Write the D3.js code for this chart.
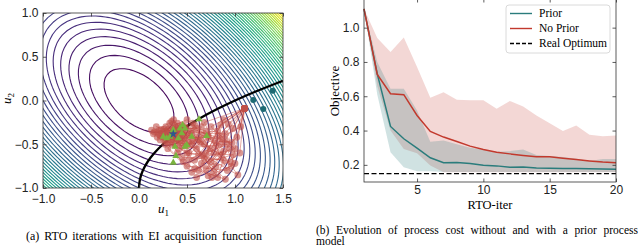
<!DOCTYPE html>
<html>
<head>
<meta charset="utf-8">
<script src="https://cdn.jsdelivr.net/npm/d3@7"></script>
<style>
  body { margin: 0; background: #fff; }
  svg { display: block; font-family: "Liberation Serif", "DejaVu Serif", serif; }
  .tick text { font-size: 12px; fill: #222; }
</style>
</head>
<body>
<div id="chart"></div>
<script>
// ---- panel (a): objective u1^2 + u2^2 + u1*u2, levels, points ----
const objCoef = [1, 1, 1];              // u1^2, u2^2, u1*u2
const contourLevels = d3.range(1, 48).map(k => k / 10);   // 0.1 .. 4.7
const constraintPts = [[0, -1], [0.01, -0.9], [0.04, -0.8], [0.09, -0.7], [0.16, -0.6], [0.25, -0.5],
  [0.36, -0.4], [0.49, -0.3], [0.64, -0.2], [0.81, -0.1], [1.0, 0], [1.21, 0.1], [1.44, 0.2], [1.5, 0.225]];

const rtoRuns = [
  [[1.1,-0.09],[0.62,-0.45],[0.85,-0.62],[0.42,-0.33],[0.3,-0.4],[0.55,-0.38],[0.38,-0.5],[0.35,-0.36],[0.47,-0.43],[0.4,-0.38]],
  [[1.1,-0.09],[0.9,-0.45],[0.7,-0.78],[0.95,-0.7],[0.5,-0.6],[0.28,-0.3],[0.6,-0.32],[0.33,-0.45],[0.42,-0.47],[0.37,-0.4]],
  [[1.1,-0.09],[0.75,-0.3],[1.0,-0.55],[0.58,-0.68],[0.2,-0.35],[0.45,-0.28],[0.68,-0.5],[0.3,-0.48],[0.36,-0.34],[0.44,-0.37]],
  [[1.1,-0.09],[0.98,-0.32],[0.82,-0.88],[0.6,-0.55],[0.15,-0.38],[0.5,-0.22],[0.72,-0.42],[0.25,-0.42],[0.38,-0.3],[0.33,-0.38]],
  [[1.1,-0.09],[0.8,-0.52],[1.03,-0.85],[0.66,-0.62],[0.36,-0.22],[0.55,-0.5],[0.9,-0.38],[0.27,-0.36],[0.46,-0.35],[0.4,-0.42]],
  [[1.1,-0.09],[0.68,-0.25],[0.92,-0.8],[0.5,-0.75],[0.22,-0.45],[0.6,-0.42],[0.78,-0.6],[0.35,-0.28],[0.43,-0.4],[0.36,-0.44]],
  [[1.1,-0.09],[1.02,-0.42],[0.75,-0.7],[0.55,-0.82],[0.3,-0.55],[0.48,-0.3],[0.85,-0.5],[0.18,-0.3],[0.5,-0.4],[0.38,-0.35]],
  [[1.1,-0.09],[0.88,-0.22],[0.65,-0.72],[0.98,-0.62],[0.4,-0.6],[0.26,-0.33],[0.58,-0.28],[0.45,-0.52],[0.32,-0.42],[0.41,-0.36]],
  [[1.1,-0.09],[0.95,-0.55],[0.6,-0.88],[0.8,-0.75],[0.52,-0.48],[0.13,-0.34],[0.7,-0.35],[0.4,-0.26],[0.28,-0.46],[0.39,-0.39]],
  [[1.1,-0.09],[0.72,-0.4],[0.88,-0.68],[0.45,-0.65],[0.24,-0.38],[0.65,-0.3],[0.52,-0.6],[0.34,-0.5],[0.47,-0.32],[0.35,-0.4]],
  [[1.1,-0.09],[1.05,-0.6],[0.78,-0.82],[0.56,-0.45],[0.32,-0.26],[0.62,-0.62],[0.82,-0.35],[0.22,-0.4],[0.44,-0.45],[0.37,-0.37]],
  [[1.1,-0.09],[0.85,-0.28],[0.7,-0.6],[0.92,-0.5],[0.42,-0.55],[0.19,-0.42],[0.54,-0.35],[0.3,-0.33],[0.48,-0.48],[0.38,-0.42]],
  [[1.1,-0.09],[0.96,-0.75],[0.72,-0.86],[0.88,-0.58],[0.58,-0.78],[0.46,-0.7],[0.64,-0.48],[0.29,-0.38],[0.41,-0.44],[0.36,-0.41]],
  [[1.1,-0.09],[0.83,-0.4],[1.0,-0.72],[0.76,-0.88],[0.52,-0.68],[0.74,-0.55],[0.56,-0.26],[0.2,-0.38],[0.45,-0.39],[0.39,-0.4]],
  [[1.1,-0.09],[0.93,-0.27],[0.68,-0.66],[0.9,-0.9],[0.62,-0.8],[0.86,-0.44],[0.34,-0.24],[0.16,-0.36],[0.43,-0.34],[0.37,-0.38]],
  [[1.1,-0.09],[1.06,-0.3],[0.79,-0.46],[0.97,-0.48],[0.66,-0.4],[0.5,-0.52],[0.27,-0.5],[0.23,-0.33],[0.4,-0.31],[0.36,-0.39]]
];
const greenPts = [[0.625,-0.215],[0.455,-0.28],[0.427,-0.318],[0.357,-0.337],[0.323,-0.413],[0.41,-0.432],
  [0.445,-0.375],[0.549,-0.413],[0.497,-0.509],[0.705,-0.406],[0.375,-0.528],[0.479,-0.528],[0.385,-0.634],
  [0.357,-0.71],[0.288,-0.432],[0.479,-0.318],[0.253,-0.413]];
const tealPts = [[1.19, 0.006], [1.295, -0.097], [1.393, 0.112]];
const optimumPt = [0.357, -0.383];
const u1Ticks = [-1, -0.5, 0, 0.5, 1, 1.5];
const u2Ticks = [-1, -0.5, 0, 0.5, 1];

// ---- panel (b): objective per RTO iteration ----
const iters = [1,2,3,4,5,6,7,8,9,10,11,12,13,14,15,16,17,18,19,20];
const priorMean  = [1.11,0.73,0.424,0.352,0.297,0.241,0.212,0.213,0.208,0.198,0.194,0.186,0.188,0.182,0.18,0.179,0.178,0.177,0.176,0.175];
const priorUpper = [1.11,0.8,0.644,0.644,0.517,0.335,0.342,0.32,0.3,0.29,0.276,0.28,0.29,0.258,0.252,0.246,0.236,0.222,0.234,0.234];
const priorLower = [1.11,0.61,0.274,0.186,0.163,0.163,0.159,0.158,0.158,0.158,0.158,0.158,0.158,0.158,0.158,0.158,0.158,0.158,0.158,0.158];
const noPriorMean  = [1.11,0.727,0.615,0.609,0.488,0.395,0.362,0.336,0.309,0.29,0.274,0.264,0.255,0.247,0.247,0.239,0.231,0.223,0.216,0.212];
const noPriorUpper = [1.11,0.94,0.858,0.942,0.77,0.591,0.624,0.58,0.576,0.576,0.527,0.572,0.54,0.488,0.443,0.397,0.43,0.375,0.367,0.371];
const noPriorLower = [1.11,0.66,0.4,0.293,0.268,0.196,0.157,0.157,0.157,0.157,0.157,0.157,0.157,0.157,0.157,0.157,0.157,0.157,0.157,0.157];
const realOptimum = 0.149;
const iterTicks = [5, 10, 15, 20];
const objTicks = [0.2, 0.4, 0.6, 0.8, 1.0];
const legendItems = ["Prior", "No Prior", "Real Optimum"];

const teal = "#2a7c7c", red = "#c2392d";
const fmt = d => d3.format(".1f")(d).replace("-", "\u2212");

const svg = d3.select("#chart").append("svg").attr("width", 640).attr("height", 247);

// inward ticks on all four sides
function boxAxes(g, x, y, xt, yt, tf) {
  const [x0, x1] = x.range(), [y0, y1] = y.range();
  g.append("g").attr("transform", `translate(0,${y0})`)
    .call(d3.axisBottom(x).tickValues(xt).tickSize(-3.5).tickPadding(tf.xpad).tickFormat(tf.x));
  g.append("g").attr("transform", `translate(0,${y1})`)
    .call(d3.axisTop(x).tickValues(xt).tickSize(-3.5).tickFormat(""));
  g.append("g").attr("transform", `translate(${x0},0)`)
    .call(d3.axisLeft(y).tickValues(yt).tickSize(-3.5).tickPadding(4.5).tickFormat(tf.y));
  g.append("g").attr("transform", `translate(${x1},0)`)
    .call(d3.axisRight(y).tickValues(yt).tickSize(-3.5).tickFormat(""));
  g.selectAll(".domain").remove();
  g.selectAll(".tick line").attr("stroke", "#333").attr("stroke-width", 0.8);
  g.append("rect").attr("x", x0).attr("y", y1).attr("width", x1 - x0).attr("height", y0 - y1)
    .attr("fill", "none").attr("stroke", "#333").attr("stroke-width", 0.8);
}

// justify a caption line by widening the word gaps
function justify(text, width) {
  const node = text.node();
  const gaps = node.textContent.split(" ").length - 1;
  const extra = width - node.getComputedTextLength();
  if (gaps > 0 && extra > 0) text.attr("word-spacing", extra / gaps);
  else if (extra < 0) text.attr("textLength", width).attr("lengthAdjust", "spacingAndGlyphs");
}

// ================= panel (a) =================
const xL = d3.scaleLinear().domain([-1, 1.5]).range([43, 283]);
const yL = d3.scaleLinear().domain([-1, 1]).range([188, 13]);

svg.append("clipPath").attr("id", "clipA").append("rect")
  .attr("x", 43).attr("y", 13).attr("width", 240).attr("height", 175);

const gA = svg.append("g");
const plotA = gA.append("g").attr("clip-path", "url(#clipA)");

// sample the objective on a grid and trace contour lines
const step = 0.05, g1 = -1.2, g2 = -1.2;
const nx = 59, ny = 49;
const grid = new Array(nx * ny);
for (let j = 0; j < ny; j++) {
  for (let i = 0; i < nx; i++) {
    const a = g1 + i * step, b = g2 + j * step;
    grid[j * nx + i] = objCoef[0] * a * a + objCoef[1] * b * b + objCoef[2] * a * b;
  }
}
const contours = d3.contours().size([nx, ny]).thresholds(contourLevels)(grid);
const proj = d3.geoTransform({
  point(px, py) { this.stream.point(xL(g1 + (px - 0.5) * step), yL(g2 + (py - 0.5) * step)); }
});
plotA.append("g").selectAll("path").data(contours).join("path")
  .attr("d", d3.geoPath(proj))
  .attr("fill", "none")
  .attr("stroke", d => d3.interpolateViridis(d.value / 4.7))
  .attr("stroke-width", 1.1);

// constraint boundary
plotA.append("path").datum(constraintPts)
  .attr("d", d3.line().x(d => xL(d[0])).y(d => yL(d[1])).curve(d3.curveNatural))
  .attr("fill", "none").attr("stroke", "#000").attr("stroke-width", 2.3);

// RTO runs
const runLine = d3.line().x(d => xL(d[0])).y(d => yL(d[1]));
plotA.append("g").selectAll("path").data(rtoRuns).join("path")
  .attr("d", runLine).attr("fill", "none")
  .attr("stroke", red).attr("stroke-opacity", 0.55).attr("stroke-width", 0.8);
plotA.append("g").selectAll("circle").data(rtoRuns.flat()).join("circle")
  .attr("cx", d => xL(d[0])).attr("cy", d => yL(d[1])).attr("r", 3.4)
  .attr("fill", "#c0504a").attr("fill-opacity", 0.6);

plotA.append("g").selectAll("circle").data(tealPts).join("circle")
  .attr("cx", d => xL(d[0])).attr("cy", d => yL(d[1])).attr("r", 3)
  .attr("fill", "#1e6a73");

plotA.append("g").selectAll("path").data(greenPts).join("path")
  .attr("transform", d => `translate(${xL(d[0])},${yL(d[1])})`)
  .attr("d", d3.symbol(d3.symbolTriangle, 22))
  .attr("fill", "#7ab33e");

plotA.append("path")
  .attr("transform", `translate(${xL(optimumPt[0])},${yL(optimumPt[1])})`)
  .attr("d", d3.symbol(d3.symbolStar, 26))
  .attr("fill", "#2a5b8c");

boxAxes(gA, xL, yL, u1Ticks, u2Ticks, { x: fmt, y: fmt, xpad: 6 });

gA.append("text").attr("x", 158).attr("y", 213).attr("font-size", 13)
  .call(t => { t.append("tspan").attr("font-style", "italic").text("u");
               t.append("tspan").attr("dy", 3).attr("font-size", 9).text("1"); });
gA.append("text").attr("transform", "translate(11,104) rotate(-90)").attr("font-size", 13)
  .call(t => { t.append("tspan").attr("font-style", "italic").text("u");
               t.append("tspan").attr("dy", 3).attr("font-size", 9).text("2"); });

svg.append("text").attr("x", 26).attr("y", 240).attr("font-size", 12)
  .text("(a) RTO iterations with EI acquisition function")
  .call(justify, 236);

// ================= panel (b) =================
const xR = d3.scaleLinear().domain([1, 20]).range([364, 616]);
const yR = d3.scaleLinear().domain([0.1, 1.167]).range([182, -1]);
const gB = svg.append("g");

const band = (lo, hi) => d3.area().x((d, i) => xR(iters[i])).y0((d, i) => yR(lo[i])).y1((d, i) => yR(hi[i]));
gB.append("path").datum(iters).attr("d", band(noPriorLower, noPriorUpper))
  .attr("fill", red).attr("fill-opacity", 0.2);
gB.append("path").datum(iters).attr("d", band(priorLower, priorUpper))
  .attr("fill", teal).attr("fill-opacity", 0.22);

const meanLine = vals => d3.line().x((d, i) => xR(iters[i])).y((d, i) => yR(vals[i]));
gB.append("path").datum(iters).attr("d", meanLine(priorMean))
  .attr("fill", "none").attr("stroke", teal).attr("stroke-width", 1.5);
gB.append("path").datum(iters).attr("d", meanLine(noPriorMean))
  .attr("fill", "none").attr("stroke", red).attr("stroke-width", 1.5);
gB.append("line").attr("x1", xR(1)).attr("x2", xR(20))
  .attr("y1", yR(realOptimum)).attr("y2", yR(realOptimum))
  .attr("stroke", "#000").attr("stroke-width", 1.4).attr("stroke-dasharray", "5,2.5");

boxAxes(gB, xR, yR, iterTicks, objTicks, { x: d3.format("d"), y: d3.format(".1f"), xpad: 3.5 });

gB.append("text").attr("transform", "translate(339,91) rotate(-90)")
  .attr("text-anchor", "middle").attr("font-size", 13).text("Objective");
gB.append("text").attr("x", 490).attr("y", 208.5)
  .attr("text-anchor", "middle").attr("font-size", 12.5).text("RTO-iter");

// legend
const lg = gB.append("g");
lg.append("rect").attr("x", 506).attr("y", 5).attr("width", 104).attr("height", 48).attr("rx", 3)
  .attr("fill", "#fff").attr("fill-opacity", 0.85).attr("stroke", "#d0d0d0").attr("stroke-width", 0.8);
const lgStyle = [{ c: teal, dash: null }, { c: red, dash: null }, { c: "#000", dash: "4,2" }];
legendItems.forEach((name, i) => {
  const y = 13.5 + i * 15;
  lg.append("line").attr("x1", 510).attr("x2", 532).attr("y1", y).attr("y2", y)
    .attr("stroke", lgStyle[i].c).attr("stroke-width", 1.4).attr("stroke-dasharray", lgStyle[i].dash);
  lg.append("text").attr("x", 539).attr("y", y + 3.8).attr("font-size", 11.5).text(name);
});

svg.append("text").attr("x", 316).attr("y", 233.5).attr("font-size", 11.5)
  .text("(b) Evolution of process cost without and with a prior process")
  .call(justify, 322);
svg.append("text").attr("x", 316).attr("y", 245).attr("font-size", 11.5).text("model");
</script>
</body>
</html>
